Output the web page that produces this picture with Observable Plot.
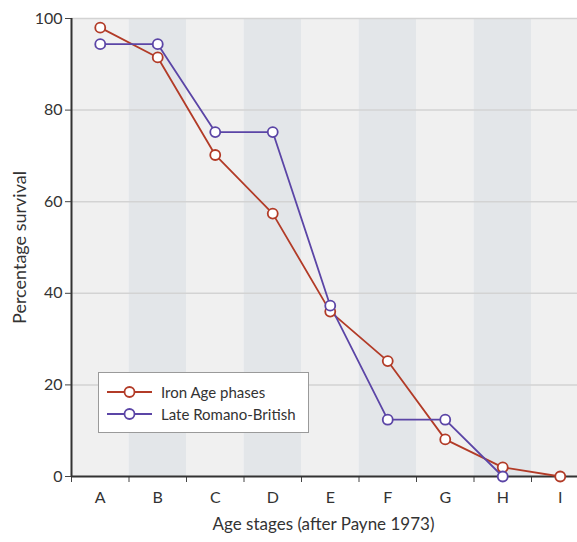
<!DOCTYPE html>
<html>
<head>
<meta charset="utf-8">
<script src="https://cdn.jsdelivr.net/npm/d3@7"></script>
<script src="https://cdn.jsdelivr.net/npm/@observablehq/plot@0.6"></script>
<style>
  html, body { margin: 0; padding: 0; background: #fff; overflow: hidden; }
  #wrap { position: relative; width: 577px; height: 542px; font-family: Lato, "Open Sans", sans-serif; }
  #legend { position: absolute; left: 98px; top: 372px; width: 211px; height: 61px; background: #fff;
            border: 1px solid #9a9a9a; box-sizing: border-box; font-size: 15px; color: #333; }
  #legend .item { display: flex; align-items: center; height: 22px; }
  #legend .item:first-child { margin-top: 8px; }
  #legend svg { margin-left: 8px; margin-right: 9px; }
</style>
</head>
<body>
<div id="wrap"></div>
<script>
const stages = ["A", "B", "C", "D", "E", "F", "G", "H", "I"];
const ironAge = [98, 91.5, 70.2, 57.4, 36, 25.2, 8.1, 2, 0];
const romanoBritish = [94.4, 94.4, 75.2, 75.2, 37.3, 12.4, 12.4, 0, null];
const yTicks = [0, 20, 40, 60, 80, 100];
const gridTicks = [20, 40, 60, 80, 100];
const seriesNames = ["Iron Age phases", "Late Romano-British"];
const seriesColors = ["#b23b27", "#5b45a6"];

const bands = stages.map((s, i) => ({stage: s, i, fill: i % 2 ? "#e3e6e9" : "#f0f0f0"}));
const rows = [];
stages.forEach((s, i) => {
  rows.push({series: seriesNames[0], i, v: ironAge[i]});
  if (romanoBritish[i] != null) rows.push({series: seriesNames[1], i, v: romanoBritish[i]});
});

const font = "Lato, 'Open Sans', sans-serif";
const plot = Plot.plot({
  width: 577,
  height: 542,
  marginLeft: 71,
  marginTop: 18,
  marginBottom: 66,
  marginRight: 0,
  style: {fontFamily: font, fontSize: "16px", color: "#333", background: "transparent", overflow: "hidden"},
  x: {type: "linear", domain: [0, 9], range: [71, 588.5], axis: null},
  y: {domain: [0, 100], axis: null},
  color: {domain: seriesNames, range: seriesColors},
  marks: [
    Plot.rect(bands, {x1: d => d.i, x2: d => d.i + 1, y1: 0, y2: 100, fill: d => d.fill}),
    Plot.ruleY(gridTicks, {stroke: "#d3d3d3", strokeWidth: 1.5}),
    Plot.axisY({ticks: yTicks, tickSize: 6, tickPadding: 3, label: null, fontSize: 16, stroke: "#444", fill: "#333"}),
    Plot.axisX({ticks: d3.range(0, 10), tickSize: 6, tickFormat: () => "", label: null, stroke: "#444"}),
    Plot.axisX({ticks: stages.map((s, i) => i + 0.5), tickSize: 0, tickPadding: 15, tickFormat: x => stages[Math.floor(x)], label: null, fontSize: 16, fill: "#333"}),
    Plot.ruleX([0], {y1: 0, y2: 100, stroke: "#333", strokeWidth: 2}),
    Plot.ruleY([0], {stroke: "#333", strokeWidth: 2}),
    Plot.line(rows, {x: d => d.i + 0.5, y: "v", z: "series", stroke: "series", strokeWidth: 1.8}),
    Plot.dot(rows, {x: d => d.i + 0.5, y: "v", stroke: "series", fill: "white", r: 5, strokeWidth: 1.8}),
    Plot.text(["Percentage survival"], {frameAnchor: "left", textAnchor: "middle", rotate: -90, dx: -51, fontSize: 18, fill: "#333"}),
    Plot.text(["Age stages (after Payne 1973)"], {frameAnchor: "bottom", dy: 53, dx: -1, fontSize: 17, fill: "#333"})
  ]
});
const wrap = document.getElementById("wrap");
wrap.appendChild(plot);

const legend = document.createElement("div");
legend.id = "legend";
seriesNames.forEach((name, k) => {
  const item = document.createElement("div");
  item.className = "item";
  item.innerHTML = `<svg width="45" height="14"><line x1="0" x2="45" y1="7" y2="7" stroke="${seriesColors[k]}" stroke-width="1.8"/><circle cx="22.5" cy="7" r="5" fill="white" stroke="${seriesColors[k]}" stroke-width="1.8"/></svg><span>${name}</span>`;
  legend.appendChild(item);
});
wrap.appendChild(legend);
</script>
</body>
</html>
